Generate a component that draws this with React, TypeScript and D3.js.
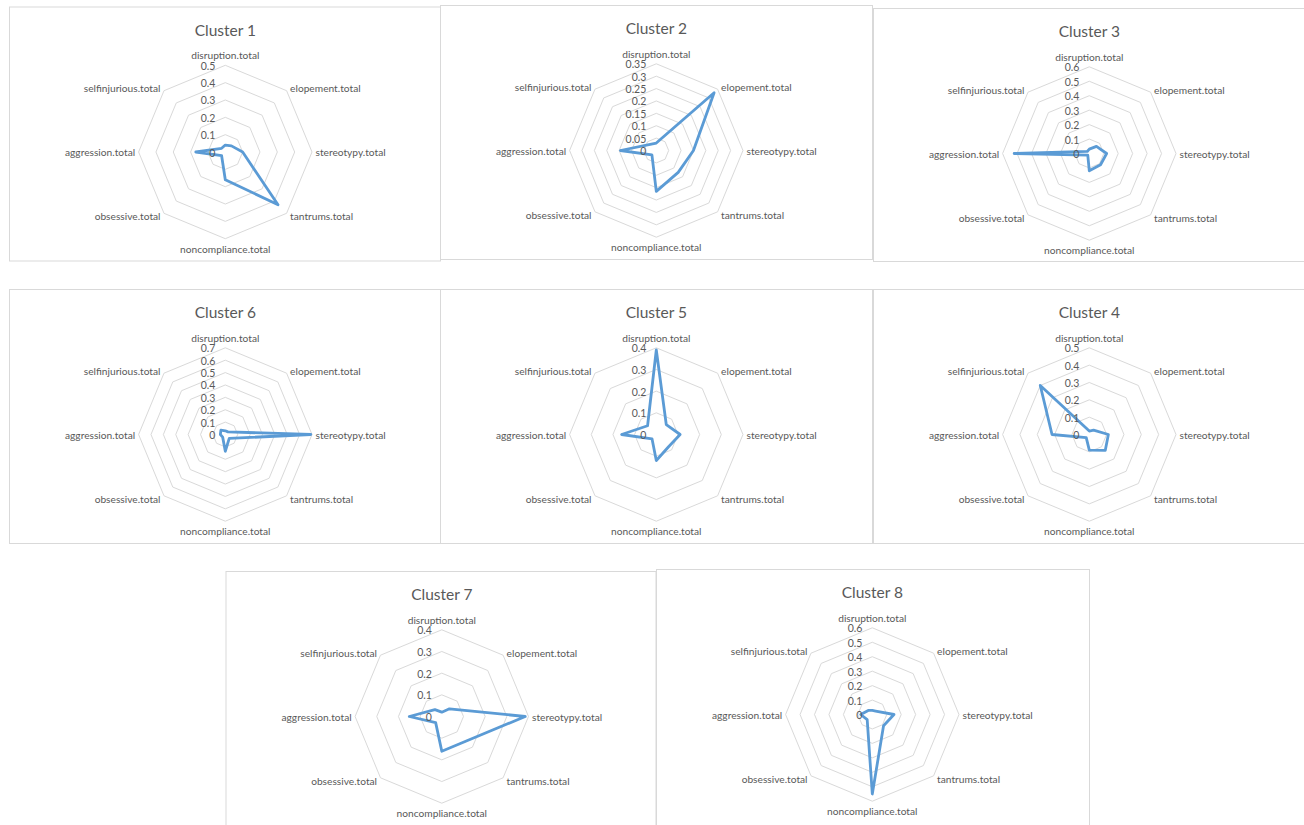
import React from "react";
import * as d3 from "d3";

// Behaviour categories, clockwise from the top of each radar
const categories = [
  "disruption.total",
  "elopement.total",
  "stereotypy.total",
  "tantrums.total",
  "noncompliance.total",
  "obsessive.total",
  "aggression.total",
  "selfinjurious.total",
];

// Cluster profiles (same order as categories)
const cluster1 = [0.04, 0.05, 0.1, 0.43, 0.16, 0.03, 0.17, 0.03];
const cluster2 = [0.03, 0.33, 0.15, 0.125, 0.165, 0.025, 0.145, 0.035];
const cluster3 = [0.03, 0.07, 0.12, 0.11, 0.12, 0.015, 0.52, 0.02];
const cluster6 = [0.03, 0.03, 0.69, 0.045, 0.135, 0.03, 0.04, 0.05];
const cluster5 = [0.39, 0.065, 0.11, 0.08, 0.12, 0.028, 0.16, 0.057];
const cluster4 = [0.02, 0.035, 0.11, 0.13, 0.09, 0.025, 0.215, 0.4];
const cluster7 = [0.02, 0.05, 0.385, 0.16, 0.16, 0.04, 0.15, 0.045];
const cluster8 = [0.028, 0.033, 0.15, 0.11, 0.55, 0.05, 0.08, 0.04];

// Radial tick labels for each cluster
const ticks1 = ["0", "0.1", "0.2", "0.3", "0.4", "0.5"];
const ticks2 = ["0", "0.05", "0.1", "0.15", "0.2", "0.25", "0.3", "0.35"];
const ticks3 = ["0", "0.1", "0.2", "0.3", "0.4", "0.5", "0.6"];
const ticks6 = ["0", "0.1", "0.2", "0.3", "0.4", "0.5", "0.6", "0.7"];
const ticks5 = ["0", "0.1", "0.2", "0.3", "0.4"];
const ticks4 = ["0", "0.1", "0.2", "0.3", "0.4", "0.5"];
const ticks7 = ["0", "0.1", "0.2", "0.3", "0.4"];
const ticks8 = ["0", "0.1", "0.2", "0.3", "0.4", "0.5", "0.6"];

type Panel = {
  title: string;
  values: number[];
  ticks: string[];
  x: number;
  y: number;
  w: number;
  h: number;
};

const panels: Panel[] = [
  { title: "Cluster 1", values: cluster1, ticks: ticks1, x: 9.5, y: 7, w: 431, h: 254 },
  { title: "Cluster 2", values: cluster2, ticks: ticks2, x: 440.5, y: 5.5, w: 432, h: 254 },
  { title: "Cluster 3", values: cluster3, ticks: ticks3, x: 873.5, y: 8.5, w: 431, h: 253 },
  { title: "Cluster 6", values: cluster6, ticks: ticks6, x: 9.5, y: 289.5, w: 431, h: 254 },
  { title: "Cluster 5", values: cluster5, ticks: ticks5, x: 440.5, y: 289.5, w: 432, h: 254 },
  { title: "Cluster 4", values: cluster4, ticks: ticks4, x: 873.5, y: 289.5, w: 431, h: 254 },
  { title: "Cluster 7", values: cluster7, ticks: ticks7, x: 226, y: 571.5, w: 430, h: 256 },
  { title: "Cluster 8", values: cluster8, ticks: ticks8, x: 656.5, y: 569.5, w: 433, h: 258 },
];

const R = 86.7;
const FONT = "Lato, 'Open Sans', sans-serif";
const TEXT = "#595959";
const GRID = "#d9d9d9";
const LINE = "#5b9bd5";

function Radar({ p }: { p: Panel }) {
  const n = categories.length;
  const tickVals = p.ticks.map(Number);
  const max = d3.max(tickVals) as number;
  const r = d3.scaleLinear().domain([0, max]).range([0, R]);
  const angle = (i: number) => (i * 2 * Math.PI) / n;
  const cx = p.x + 215.8;
  const cy = p.y + 145;

  const ring = d3
    .lineRadial<number>()
    .angle((_, i) => angle(i))
    .radius((d) => d)
    .curve(d3.curveLinearClosed);

  const series = d3
    .lineRadial<number>()
    .angle((_, i) => angle(i))
    .radius((d) => r(d))
    .curve(d3.curveLinearClosed);

  return (
    <g>
      <rect x={p.x} y={p.y} width={p.w} height={p.h} fill="#fff" stroke={GRID} strokeWidth={1} />
      <text
        x={cx}
        y={p.y + 28.5}
        textAnchor="middle"
        fontFamily={FONT}
        fontSize={15.5}
        fill={TEXT}
      >
        {p.title}
      </text>
      <g transform={`translate(${cx},${cy})`}>
        {tickVals
          .filter((t) => t > 0)
          .map((t, k) => (
            <path
              key={k}
              d={ring(categories.map(() => r(t))) as string}
              fill="none"
              stroke={GRID}
              strokeWidth={1}
            />
          ))}
        <path
          d={series(p.values) as string}
          fill="none"
          stroke={LINE}
          strokeWidth={2.8}
          strokeLinejoin="round"
        />
        {p.ticks.map((t, k) => (
          <text
            key={k}
            x={-10}
            y={-r(tickVals[k]) + 0.5}
            textAnchor="end"
            dominantBaseline="central"
            fontFamily={FONT}
            fontSize={10.5}
            fill={TEXT}
          >
            {t}
          </text>
        ))}
        {categories.map((c, i) => {
          const a = angle(i);
          const vx = R * Math.sin(a);
          const vy = -R * Math.cos(a);
          let x = vx;
          let y = vy;
          let anchor: "start" | "middle" | "end" = "middle";
          if (i === 0) {
            y = vy - 10;
          } else if (i === 4) {
            y = vy + 10;
          } else if (i < 4) {
            anchor = "start";
            x = vx + 3.5;
            y = vy + (i === 1 ? -2.7 : i === 3 ? 2.7 : 0);
          } else {
            anchor = "end";
            x = vx - 3.5;
            y = vy + (i === 7 ? -2.7 : i === 5 ? 2.7 : 0);
          }
          return (
            <text
              key={c}
              x={x}
              y={y}
              textAnchor={anchor}
              dominantBaseline="central"
              fontFamily={FONT}
              fontSize={10.2}
              fill={TEXT}
            >
              {c}
            </text>
          );
        })}
      </g>
    </g>
  );
}

export default function App() {
  return (
    <svg
      width={1304}
      height={825}
      style={{ position: "absolute", left: 0, top: 0, background: "#fff" }}
    >
      <rect width={1304} height={825} fill="#fff" />
      {panels.map((p) => (
        <Radar key={p.title} p={p} />
      ))}
    </svg>
  );
}
